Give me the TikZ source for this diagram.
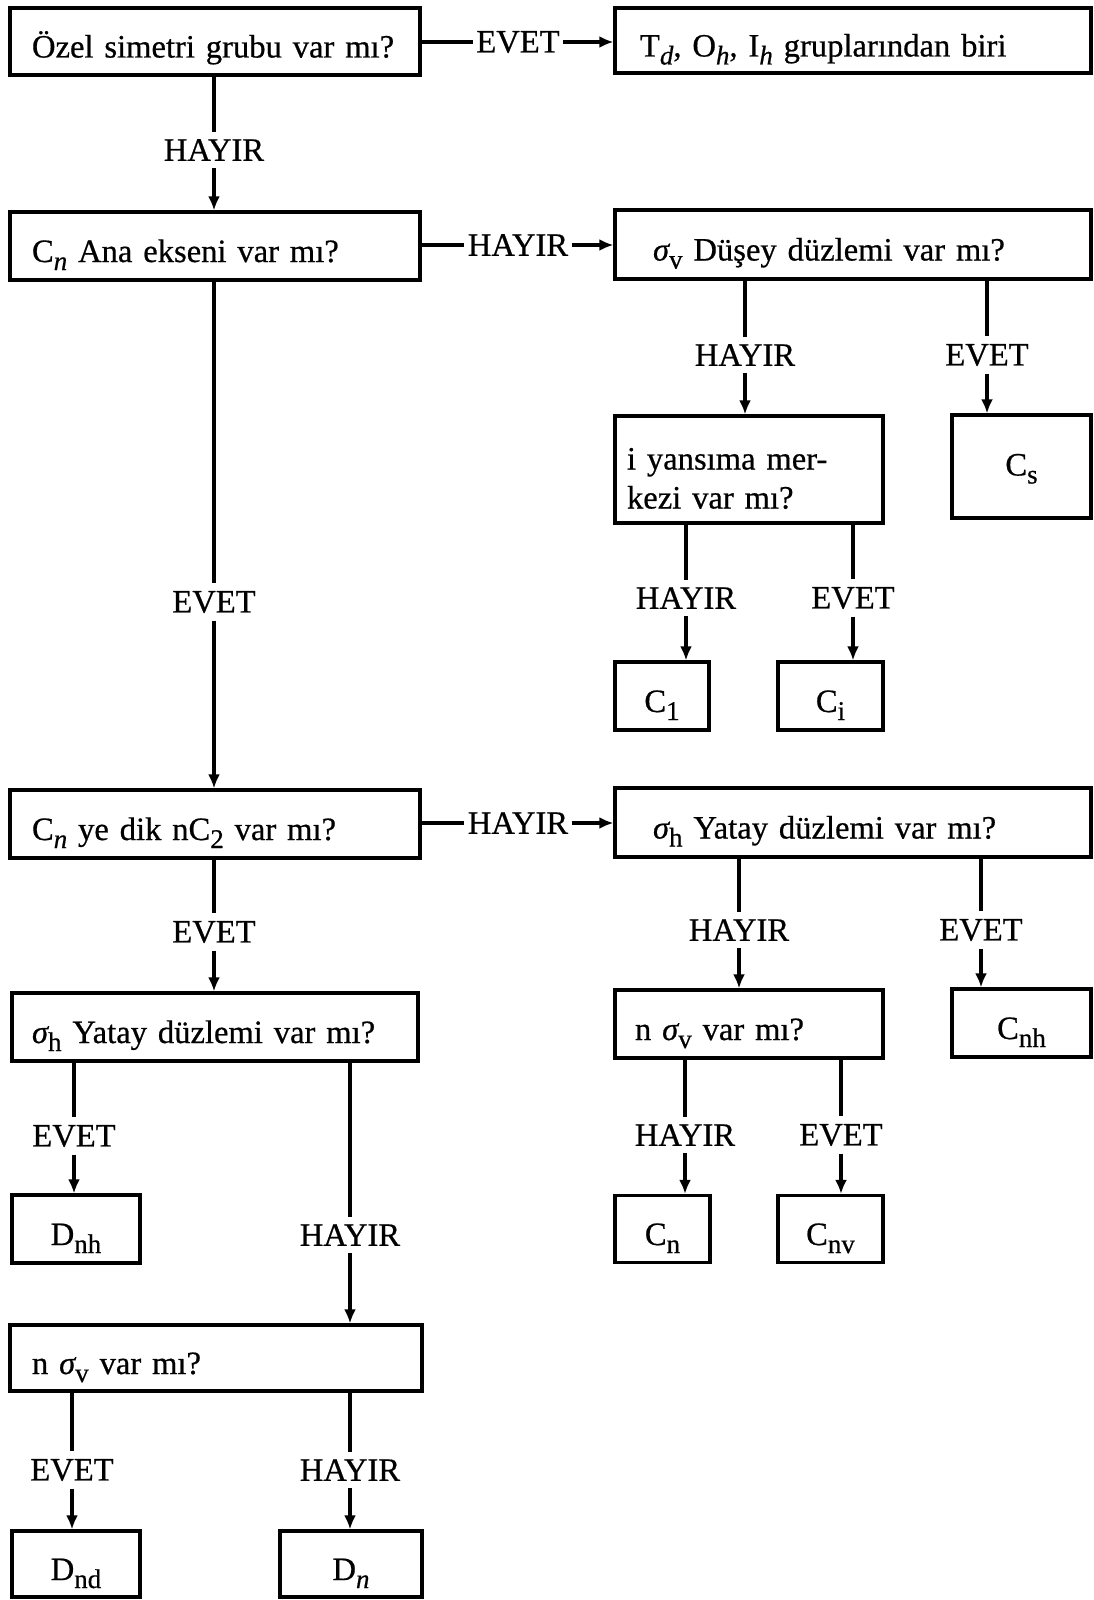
\documentclass[tikz,border=0pt]{standalone}
\usepackage{fontspec}
\setmainfont{Liberation Serif}[FakeBold=0.6]
\usetikzlibrary{arrows.meta}

\newcommand{\altind}[1]{\raisebox{-4pt}{\fontsize{13.5}{13.5}\selectfont #1}}

\begin{document}
\begin{tikzpicture}[>={Latex[length=7pt,width=6pt]}, x=0.5pt, y=-0.5pt,
  line width=1.6pt, font=\fontsize{16.3}{19.5}\selectfont,
  kutu/.style={draw, inner sep=0pt, text height=20pt, text depth=4pt},
  soru/.style={kutu, align=left, inner xsep=11pt},
  cevap/.style={inner xsep=1pt, inner ysep=3pt}]
  \useasboundingbox (0,0) rectangle (1093,1600);

  % sorular
  \node[soru, text width=183pt, minimum height=33.5pt] (ozel) at (215,41.5) {Özel simetri grubu var mı?};
  \node[soru, text width=213pt, inner xsep=12.5pt, minimum height=32.5pt] (grup) at (853,40.5)
    {T\altind{\itshape d}, O\altind{\itshape h}, I\altind{\itshape h} gruplarından biri};
  \node[soru, text width=183pt, minimum height=34pt] (ana) at (215,246) {C\altind{\itshape n} Ana ekseni var mı?};
  \node[soru, text width=200pt, inner xsep=19pt, minimum height=34.5pt] (dusey) at (853,244.5)
    {{\itshape σ}\altind{v} Düşey düzlemi var mı?};
  \node[soru, text width=122pt, inner xsep=6pt, minimum height=53.5pt, text height=23.5pt, text depth=23.5pt]
    (merkez) at (749,469.5) {i yansıma mer-\\kezi var mı?};
  \node[soru, text width=183pt, minimum height=34pt] (dik) at (215,824)
    {C\altind{\itshape n} ye dik nC\altind{2} var mı?};
  \node[soru, text width=200pt, inner xsep=19pt, minimum height=34.5pt] (yatay) at (853,822.5)
    {{\itshape σ}\altind{h} Yatay düzlemi var mı?};
  \node[soru, text width=183pt, inner xsep=10pt, minimum height=34pt] (yatayd) at (215,1027)
    {{\itshape σ}\altind{h} Yatay düzlemi var mı?};
  \node[soru, text width=114pt, inner xsep=10pt, minimum height=34pt] (nsv) at (749,1024)
    {n {\itshape σ}\altind{v} var mı?};
  \node[soru, text width=184pt, minimum height=33pt] (nsvd) at (216,1358)
    {n {\itshape σ}\altind{v} var mı?};

  % gruplar
  \node[kutu, minimum width=69.5pt, minimum height=51.5pt, text height=13pt] (cs) at (1021.5,466.5) {C\altind{s}};
  \node[kutu, minimum width=47pt, minimum height=34pt] (c1) at (662,696) {C\altind{1}};
  \node[kutu, minimum width=52.5pt, minimum height=34pt] (ci) at (830.5,696) {C\altind{i}};
  \node[kutu, minimum width=69.5pt, minimum height=34pt] (cnh) at (1021.5,1023) {C\altind{nh}};
  \node[kutu, minimum width=64pt, minimum height=34pt] (dnh) at (76,1229) {D\altind{nh}};
  \node[kutu, minimum width=47.5pt, minimum height=33.5pt] (cn) at (662.5,1229) {C\altind{n}};
  \node[kutu, minimum width=52.5pt, minimum height=33.5pt] (cnv) at (830.5,1229) {C\altind{nv}};
  \node[kutu, minimum width=64pt, minimum height=33pt] (dnd) at (76,1564) {D\altind{nd}};
  \node[kutu, minimum width=71pt, minimum height=33pt] (dn) at (351,1564) {D\altind{\itshape n}};

  % cevaplar
  \node[cevap] (e1) at (518,42) {EVET};
  \node[cevap] (h1) at (214,150) {HAYIR};
  \node[cevap] (h2) at (518,245) {HAYIR};
  \node[cevap] (e2) at (214,602) {EVET};
  \node[cevap] (h3) at (745,355) {HAYIR};
  \node[cevap] (e3) at (987,355) {EVET};
  \node[cevap] (h4) at (686,598) {HAYIR};
  \node[cevap] (e4) at (853,598) {EVET};
  \node[cevap] (h5) at (518,823) {HAYIR};
  \node[cevap] (e5) at (214,932) {EVET};
  \node[cevap] (h6) at (739,930) {HAYIR};
  \node[cevap] (e6) at (981,930) {EVET};
  \node[cevap] (h7) at (685,1135) {HAYIR};
  \node[cevap] (e7) at (841,1135) {EVET};
  \node[cevap] (e8) at (74,1136) {EVET};
  \node[cevap] (h8) at (350,1235) {HAYIR};
  \node[cevap] (e9) at (72,1470) {EVET};
  \node[cevap] (h9) at (350,1470) {HAYIR};

  % yatay oklar
  \draw (ozel.east |- e1) -- (e1);
  \draw[->] (e1) -- (grup.west |- e1);
  \draw (ana.east |- h2) -- (h2);
  \draw[->] (h2) -- (dusey.west |- h2);
  \draw (dik.east |- h5) -- (h5);
  \draw[->] (h5) -- (yatay.west |- h5);

  % dikey oklar
  \draw (ozel.south -| h1) -- (h1);
  \draw[->] (h1) -- (ana.north -| h1);
  \draw (ana.south -| e2) -- (e2);
  \draw[->] (e2) -- (dik.north -| e2);
  \draw (dusey.south -| h3) -- (h3);
  \draw[->] (h3) -- (merkez.north -| h3);
  \draw (dusey.south -| e3) -- (e3);
  \draw[->] (e3) -- (cs.north -| e3);
  \draw (merkez.south -| h4) -- (h4);
  \draw[->] (h4) -- (c1.north -| h4);
  \draw (merkez.south -| e4) -- (e4);
  \draw[->] (e4) -- (ci.north -| e4);
  \draw (dik.south -| e5) -- (e5);
  \draw[->] (e5) -- (yatayd.north -| e5);
  \draw (yatay.south -| h6) -- (h6);
  \draw[->] (h6) -- (nsv.north -| h6);
  \draw (yatay.south -| e6) -- (e6);
  \draw[->] (e6) -- (cnh.north -| e6);
  \draw (nsv.south -| h7) -- (h7);
  \draw[->] (h7) -- (cn.north -| h7);
  \draw (nsv.south -| e7) -- (e7);
  \draw[->] (e7) -- (cnv.north -| e7);
  \draw (yatayd.south -| e8) -- (e8);
  \draw[->] (e8) -- (dnh.north -| e8);
  \draw (yatayd.south -| h8) -- (h8);
  \draw[->] (h8) -- (nsvd.north -| h8);
  \draw (nsvd.south -| e9) -- (e9);
  \draw[->] (e9) -- (dnd.north -| e9);
  \draw (nsvd.south -| h9) -- (h9);
  \draw[->] (h9) -- (dn.north -| h9);
\end{tikzpicture}
\end{document}
